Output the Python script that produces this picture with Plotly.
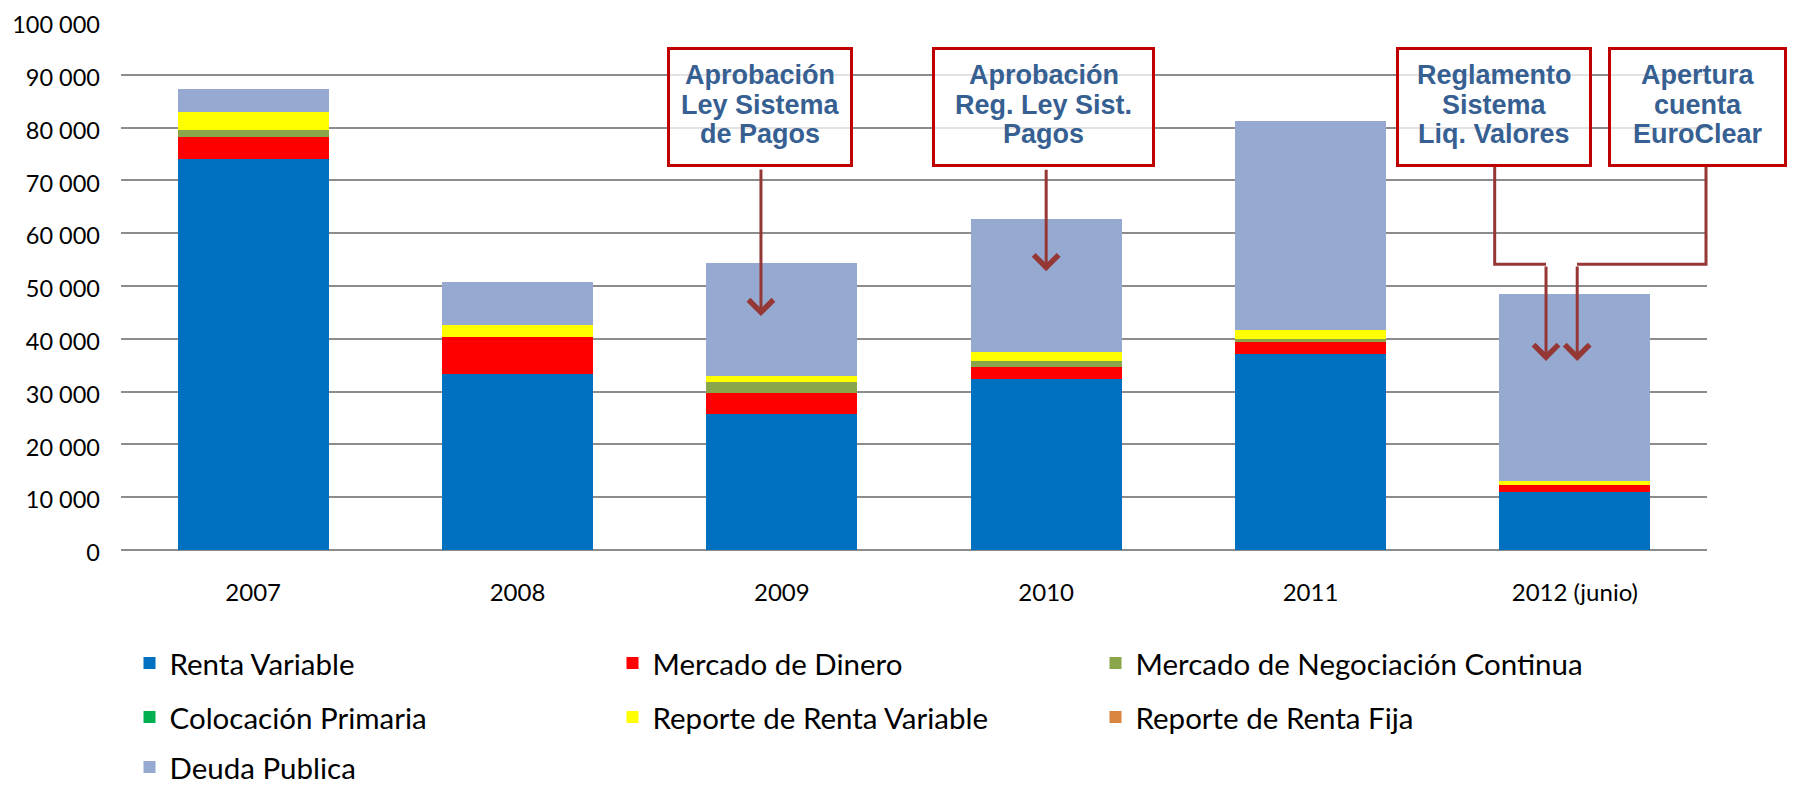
import plotly.graph_objects as go

# ---------------- data ----------------
categories = ["2007", "2008", "2009", "2010", "2011", "2012 (junio)"]
renta_variable = [74000, 33400, 25700, 32400, 37200, 11000]
mercado_dinero = [4300, 6900, 3950, 2250, 2250, 1250]
negociacion_continua = [1300, 0, 2100, 1100, 420, 0]
colocacion_primaria = [0, 0, 0, 0, 0, 0]
reporte_renta_variable = [3300, 2400, 1200, 1750, 1820, 750]
reporte_renta_fija = [0, 0, 0, 0, 0, 0]
deuda_publica = [4400, 8050, 21450, 25100, 39500, 35400]

series_names = ["Renta Variable", "Mercado de Dinero", "Mercado de Negociación Continua",
                "Colocación Primaria", "Reporte de Renta Variable", "Reporte de Renta Fija",
                "Deuda Publica"]
series_values = [renta_variable, mercado_dinero, negociacion_continua, colocacion_primaria,
                 reporte_renta_variable, reporte_renta_fija, deuda_publica]

event_lines = [["Aprobación", "Ley Sistema", "de Pagos"],
               ["Aprobación", "Reg. Ley Sist.", "Pagos"],
               ["Reglamento", "Sistema", "Liq. Valores"],
               ["Apertura", "cuenta", "EuroClear"]]
event_target_values = [44300, 52800, 35800, 35800]

# ---------------- styles / layout geometry ----------------
colors = ["#0070C0", "#FF0000", "#8AA64B", "#00B050", "#FFFF00", "#D9843F", "#96AAD1"]
legend_ids = ["legend", "legend", "legend", "legend2", "legend2", "legend2", "legend3"]
legend_widths = [438, 438, 520, 438, 438, 438, 438]

OFF = 8                       # default page margin of the html body
W, H = 1796 - OFF, 785 - OFF
# plot area in page pixels
PL, PR, PT, PB = 121, 1707, 22, 549.7


def fx(px):
    return (px - PL) / (PR - PL)


def fy(py):
    return (PB - py) / (PB - PT)


TICK_FONT = dict(family="Lato, sans-serif", size=24, color="#000000")
YTICK_FONT = dict(family="Lato, sans-serif", size=23.5, color="#000000")
LEG_FONT = dict(family="Lato, sans-serif", size=29.5, color="#000000")
BOX_FONT = dict(family="Liberation Sans, Arial, sans-serif", size=27, color="#376092")
ARROW_COLOR = "#953735"

fig = go.Figure()
for name, vals, col, lg, lw in zip(series_names, series_values, colors, legend_ids, legend_widths):
    fig.add_trace(go.Bar(x=categories, y=vals, name=name, marker=dict(color=col, line=dict(width=0)),
                         legend=lg, legendwidth=lw))

# event boxes: (left, right) in page px, shared top/bottom
box_geom = [(667, 853), (932, 1155), (1396, 1592), (1608, 1787)]
box_top, box_bot = 47, 167
line_shift = [32, 2, -27]
# arrows: x index of the tip and start offset in px above the tip
arrow_x_index = [1.921, 3.0, 4.891, 5.009]
arrow_ay = [-148, -103, -96, -96]

shapes = []
annotations = []
for lines, (l, r) in zip(event_lines, box_geom):
    shapes.append(dict(type="rect", xref="paper", yref="paper",
                       x0=fx(l + 1.5), x1=fx(r - 1.5), y0=fy(box_bot - 1.5), y1=fy(box_top + 1.5),
                       line=dict(color="#C00000", width=3),
                       fillcolor="rgba(255,255,255,0.75)", layer="above"))
    for txt, ys in zip(lines, line_shift):
        annotations.append(dict(
            xref="paper", yref="paper", x=fx((l + r) / 2), y=fy((box_top + box_bot) / 2),
            xanchor="center", yanchor="middle", yshift=ys, showarrow=False,
            text="<b>" + txt + "</b>", font=BOX_FONT))

for xi, yv, ay in zip(arrow_x_index, event_target_values, arrow_ay):
    annotations.append(dict(
        xref="x", yref="y", x=xi, y=yv, ax=0, ay=ay, text="", showarrow=True,
        arrowhead=4, arrowsize=1.6, arrowwidth=3, arrowcolor=ARROW_COLOR, standoff=0,
    ))

# elbow connectors for the last two events
elbow_top_y, elbow_mid_y = 167, 264
shapes += [
    dict(type="path", xref="paper", yref="paper",
         path=f"M{fx(1494.7)},{fy(elbow_top_y)} L{fx(1494.7)},{fy(elbow_mid_y)} L{fx(1546)},{fy(elbow_mid_y)}",
         line=dict(color=ARROW_COLOR, width=3), layer="above"),
    dict(type="path", xref="paper", yref="paper",
         path=f"M{fx(1706)},{fy(elbow_top_y)} L{fx(1706)},{fy(elbow_mid_y)} L{fx(1577)},{fy(elbow_mid_y)}",
         line=dict(color=ARROW_COLOR, width=3), layer="above"),
]

leg_common = dict(orientation="h", xanchor="left", yanchor="middle", font=LEG_FONT,
                  entrywidth=438, entrywidthmode="pixels", traceorder="normal",
                  bgcolor="rgba(0,0,0,0)", borderwidth=0)
LEG_X = fx(129.5)

fig.update_layout(
    width=W, height=H,
    margin=dict(l=PL - OFF, r=W - (PR - OFF), t=PT - OFF, b=H - (PB - OFF), autoexpand=False),
    paper_bgcolor="white", plot_bgcolor="white",
    barmode="stack", bargap=0.429,
    separators=", ",
    showlegend=True,
    legend=dict(x=LEG_X, y=fy(663), **leg_common),
    legend2=dict(x=LEG_X, y=fy(717), **leg_common),
    legend3=dict(x=LEG_X, y=fy(767), **leg_common),
    annotations=annotations,
    shapes=shapes,
    xaxis=dict(type="category", showgrid=False, showline=False, ticks="",
               tickfont=TICK_FONT, ticklabelstandoff=26),
    yaxis=dict(range=[0, 100000], dtick=10000, tickformat=",d", showgrid=True,
               gridcolor="#8C8C8C", gridwidth=1.7, zeroline=True, zerolinecolor="#8C8C8C",
               zerolinewidth=1.7, showline=False, ticks="", tickfont=YTICK_FONT,
               ticklabelstandoff=20, ticklabelshift=3, ticklabeloverflow="allow"),
)

fig.write_html("out.html")
